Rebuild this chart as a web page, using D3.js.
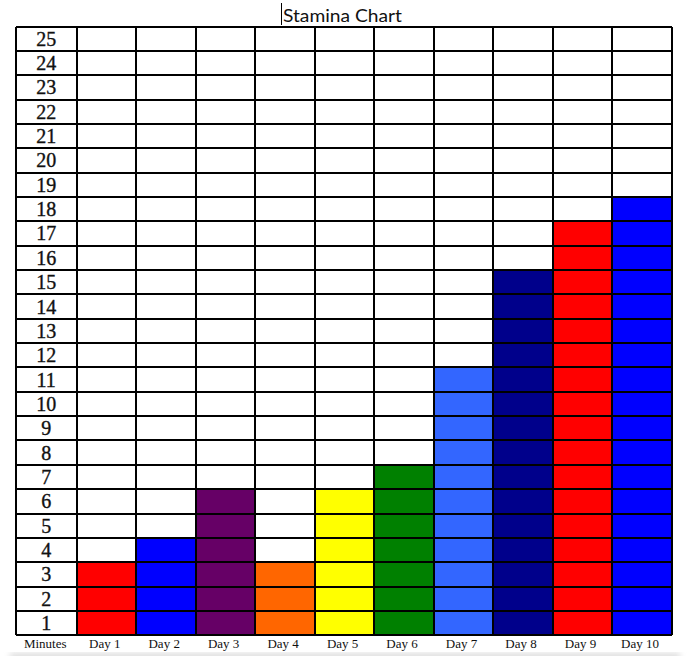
<!DOCTYPE html>
<html>
<head>
<meta charset="utf-8">
<script src="https://cdn.jsdelivr.net/npm/d3@7"></script>
<style>
html,body{margin:0;padding:0;background:#fff;}
svg{display:block;}
</style>
</head>
<body>
<svg id="chart" width="692" height="656"></svg>
<script>
const days = ["Day 1","Day 2","Day 3","Day 4","Day 5","Day 6","Day 7","Day 8","Day 9","Day 10"];
const minutes = [3,4,6,3,6,7,11,15,17,18];
const colors = ["#FF0000","#0000FF","#660066","#FF6600","#FFFF00","#008000","#3366FF","#00008B","#FF0000","#0000FF"];
const rowLabels = d3.range(1,26);
const firstColLabel = "Minutes";
const title = "Stamina Chart";

(function(){
const svg = d3.select("#chart");
const gLeft = 15.5, labelRight = 77, gRight = 671.7, gTop = 26.5, gBottom = 635.3;

const x = d3.scaleBand().domain(days).range([labelRight, gRight]);
const y = d3.scaleLinear().domain([0, 25]).range([gBottom, gTop]);
const rowH = y(0) - y(1);

// bars as stacked cells
const cells = [];
days.forEach((d,i)=>{ for(let m=1;m<=minutes[i];m++) cells.push({day:d, m, c:colors[i]}); });
svg.append("g").selectAll("rect").data(cells).join("rect")
  .attr("x", d=>x(d.day)).attr("y", d=>y(d.m)).attr("width", x.bandwidth()).attr("height", rowH)
  .attr("fill", d=>d.c);

// grid
const g = svg.append("g").attr("stroke","#000").attr("stroke-width",1.4).attr("shape-rendering","crispEdges");
g.selectAll("line.h").data(d3.range(0,26)).join("line").attr("class","h")
  .attr("x1", gLeft).attr("x2", gRight).attr("y1", d=>Math.round(y(d))).attr("y2", d=>Math.round(y(d)));
const vx = [gLeft, labelRight].concat(days.map(d=>x(d)+x.bandwidth()));
g.selectAll("line.v").data(vx).join("line").attr("class","v")
  .attr("x1", d=>Math.round(d)).attr("x2", d=>Math.round(d)).attr("y1", gTop).attr("y2", gBottom);

// row labels
svg.append("g").selectAll("text").data(rowLabels).join("text")
  .attr("x", (gLeft+labelRight)/2).attr("y", d=>y(d-0.5)+7)
  .attr("text-anchor","middle").attr("font-family","'Liberation Serif', serif").attr("font-size",20)
  .attr("fill","#111").attr("stroke","#111").attr("stroke-width",0.35).text(d=>d);

// column labels
const foot = svg.append("g").attr("font-family","'Liberation Serif', serif").attr("font-size",13).attr("fill","#111").attr("text-anchor","middle");
foot.append("text").attr("x",(gLeft+labelRight)/2 - 1).attr("y",648).text(firstColLabel);
foot.selectAll("text.d").data(days).join("text").attr("class","d")
  .attr("x", d=>x(d)+x.bandwidth()/2 - 2).attr("y",648).text(d=>d);

// title
svg.append("text").attr("x",283).attr("y",21.5).attr("font-family","Lato, 'Open Sans', sans-serif")
  .attr("font-size",18).attr("textLength",119).attr("lengthAdjust","spacingAndGlyphs").attr("fill","#111").text(title);
svg.append("line").attr("x1",281.5).attr("x2",281.5).attr("y1",3).attr("y2",25).attr("stroke","#000").attr("stroke-width",1);

// faint shadow at bottom
const defs = svg.append("defs");
defs.append("filter").attr("id","blur").append("feGaussianBlur").attr("stdDeviation",3);
svg.append("rect").attr("x",10).attr("y",653).attr("width",670).attr("height",8).attr("fill","#ddd").attr("filter","url(#blur)");
})();
</script>
</body>
</html>
